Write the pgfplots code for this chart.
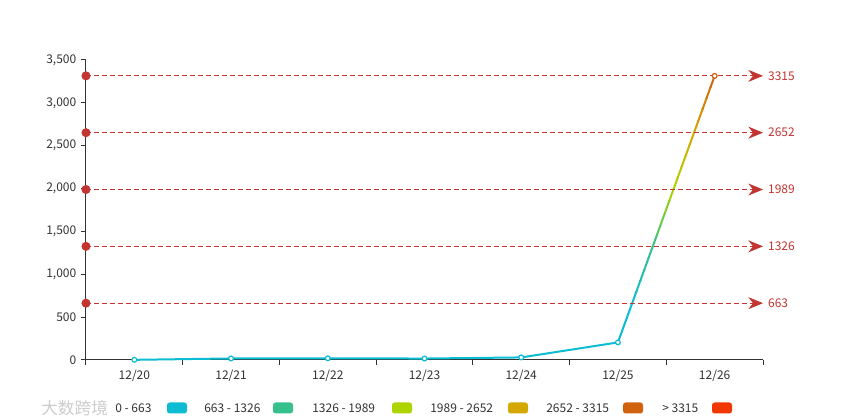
\documentclass[border=0pt]{standalone}
\usepackage{pgfplots}
\pgfplotsset{compat=1.18}
\usepackage{pgfplotstable}
\usepackage{fontspec}
\setmainfont{Noto Sans CJK SC}
\usetikzlibrary{arrows.meta}
\definecolor{c0}{HTML}{0CBCD2}
\definecolor{c1}{HTML}{35C08C}
\definecolor{c2}{HTML}{AED400}
\definecolor{c3}{HTML}{D4A800}
\definecolor{c4}{HTML}{D0620E}
\definecolor{c5}{HTML}{F03800}
\definecolor{ml}{HTML}{C23531}
\definecolor{axc}{HTML}{333333}
\pgfplotstableread{
x y
0 2
1 18
2 20
3 17
4 30
5 205
6 3315
}\mydata
\newcommand{\band}[3]{%
  \begin{scope}
    \clip (axis cs:-1,#1) rectangle (axis cs:7,#2);
    \addplot[no marks, line width=1.5pt, line join=round, draw=#3] table[x=x,y=y] {\mydata};
  \end{scope}}
\newcommand{\mline}[1]{%
  \addplot[ml, line width=0.75pt, dash pattern=on 3.6pt off 2.4pt, mark=*, mark indices={1},
    mark size=3pt, mark options={solid, fill=ml, draw=ml},
    -{Stealth[length=11pt, width=9pt, inset=3.5pt]}]
    coordinates {(-0.5,#1) (6.5,#1)}
    node[pos=1, anchor=west, text=ml, inner sep=3.5pt, font=\fontsize{9}{11}\selectfont] {#1};}
\begin{document}
\begin{tikzpicture}
\begin{axis}[
  scale only axis, width=507.75pt, height=225pt,
  xmin=-0.5, xmax=6.5, ymin=0, ymax=3500,
  clip=false,
  axis x line*=bottom, axis y line*=left,
  axis line style={-, draw=axc, line width=0.75pt},
  xtick={0,1,2,3,4,5,6},
  xticklabels={12/20,12/21,12/22,12/23,12/24,12/25,12/26},
  major x tick style={draw=none},
  minor xtick={-0.5,0.5,1.5,2.5,3.5,4.5,5.5,6.5},
  minor x tick style={draw=axc, line width=0.75pt},
  minor tick length=3.75pt,
  ytick={0,500,1000,1500,2000,2500,3000,3500},
  major tick length=3.75pt,
  y tick style={draw=axc, line width=0.75pt},
  tick align=outside,
  tick label style={font=\fontsize{9}{11}\selectfont, text=axc},
  /pgf/number format/1000 sep={,},
  /pgf/number format/assume math mode=true,
]
\band{-200}{663}{c0}
\band{663}{796}{c1!10!c0}
\band{796}{928}{c1!30!c0}
\band{928}{1061}{c1!50!c0}
\band{1061}{1193}{c1!70!c0}
\band{1193}{1326}{c1!90!c0}
\band{1326}{1459}{c2!10!c1}
\band{1459}{1591}{c2!30!c1}
\band{1591}{1724}{c2!50!c1}
\band{1724}{1856}{c2!70!c1}
\band{1856}{1989}{c2!90!c1}
\band{1989}{2122}{c3!10!c2}
\band{2122}{2254}{c3!30!c2}
\band{2254}{2387}{c3!50!c2}
\band{2387}{2519}{c3!70!c2}
\band{2519}{2652}{c3!90!c2}
\band{2652}{2785}{c4!10!c3}
\band{2785}{2917}{c4!30!c3}
\band{2917}{3050}{c4!50!c3}
\band{3050}{3182}{c4!70!c3}
\band{3182}{3500}{c4!90!c3}
\addplot[only marks, mark=*, mark size=1.8pt, mark indices={1,2,3,4,5,6},
  mark options={fill=white, draw=c0, line width=0.9pt}] table[x=x,y=y] {\mydata};
\addplot[only marks, mark=*, mark size=1.8pt, mark indices={7},
  mark options={fill=white, draw=c4, line width=0.9pt}] table[x=x,y=y] {\mydata};
\mline{663}
\mline{1326}
\mline{1989}
\mline{2652}
\mline{3315}
\end{axis}
\begin{scope}[x=0.75pt, y=0.75pt, font=\fontsize{9}{11}\selectfont]
  \path (-86,-60) rectangle (762,360);
  \node[anchor=west, inner sep=0, text=black!20, font=\fontsize{12.5}{14}\selectfont] at (-45,-48) {大数跨境};
  \foreach \tx/\sx/\cc/\tt in {29/81/c0/{0 - 663}, 118/187/c1/{663 - 1326}, 226/306/c2/{1326 - 1989}, 344/422/c3/{1989 - 2652}, 460/537/c4/{2652 - 3315}, 576/626/c5/{> 3315}} {
    \node[anchor=west, inner sep=0, text=axc] at (\tx,-48) {\tt};
    \fill[\cc, rounded corners=2pt] (\sx,-53.5) rectangle ++(20,11);
  }
\end{scope}
\end{tikzpicture}
\end{document}
